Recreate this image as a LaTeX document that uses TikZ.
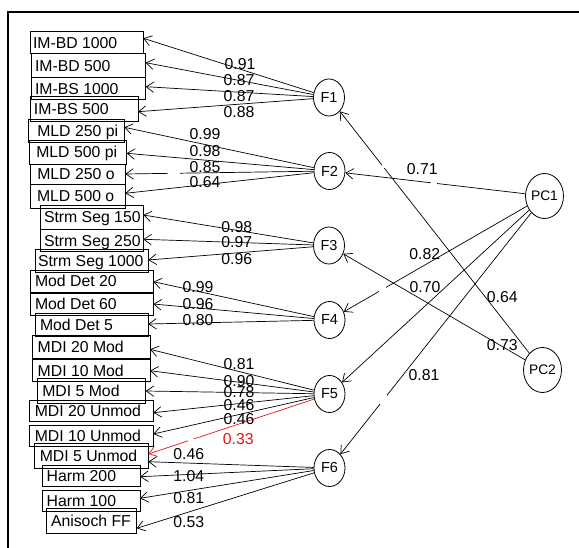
\documentclass[tikz,border=0pt]{standalone}
\usepackage{fontspec}
\setmainfont{Liberation Sans}
\usetikzlibrary{arrows.meta,shapes.geometric}
\definecolor{semred}{RGB}{230,20,20}
\newcommand\manbox[7]{%
  \pgfmathsetmacro\bxw{#4-#2}%
  \pgfmathsetmacro\bxh{#5-#3}%
  \pgfmathsetmacro\bxt{#4-#2-2*#6}%
  \node[mbox, minimum width=\bxw pt, minimum height=\bxh pt] (#1) at ({(#2+#4)/2},{(#3+#5)/2}) {\makebox[\bxt pt][l]{#7}};}
\begin{document}
\begin{tikzpicture}[x=1pt,y=-1pt,
  mbox/.style={draw, line width=0.8pt, rectangle, inner xsep=0pt, inner ysep=0pt, outer sep=0pt,
    text height=11.3pt, text depth=0pt, font=\fontsize{15.8}{18}\selectfont},
  lat/.style={draw, ellipse, line width=0.8pt, minimum width=31pt, minimum height=37pt, inner sep=0pt,
    font=\fontsize{14.5}{16}\selectfont},
  pcnode/.style={lat, minimum width=37pt, minimum height=45pt, font=\fontsize{13.8}{16}\selectfont},
  load/.style={line width=0.7pt, -{Straight Barb[length=7.5pt,width=10.5pt]}},
  lab/.style={inner sep=0pt, text height=11.3pt, text depth=0pt, font=\fontsize{15.8}{18}\selectfont},
  gap/.style={fill=white, draw=none}]
\useasboundingbox (0,0) rectangle (579,548);
\draw[line width=2pt] (7.7,548) -- (7.7,12) -- (579,12);

% manifest boxes
\manbox{b1}{30}{31.7}{143.3}{53.3}{3}{IM-BD 1000}
\manbox{b2}{31}{53.3}{145.7}{77.5}{4}{IM-BD 500}
\manbox{b3}{31}{77.7}{145.7}{99.3}{4}{IM-BS 1000}
\manbox{b4}{30}{96.7}{138}{121.7}{4}{IM-BS 500}
\manbox{b5}{28.3}{119}{124.3}{142.7}{9}{MLD 250 pi}
\manbox{b6}{29.3}{140.7}{126.7}{164}{7}{MLD 500 pi}
\manbox{b7}{30.3}{164}{125.3}{184.3}{7}{MLD 250 o}
\manbox{b8}{30}{184.3}{125.3}{208.3}{7}{MLD 500 o}
\manbox{b9}{40}{205}{143.3}{229.3}{4}{Strm Seg 150}
\manbox{b10}{40}{229.3}{143.3}{251.7}{4}{Strm Seg 250}
\manbox{b11}{35}{249.3}{148.3}{272.7}{3}{Strm Seg 1000}
\manbox{b12}{30}{270}{153.3}{292}{5}{Mod Det 20}
\manbox{b13}{30}{293.3}{153.3}{315}{5}{Mod Det 60}
\manbox{b14}{35}{313.3}{148.3}{336.7}{5}{Mod Det 5}
\manbox{b15}{32.7}{335}{150}{358.3}{5}{MDI 20 Mod}
\manbox{b16}{32.7}{359.3}{150}{381.7}{5}{MDI 10 Mod}
\manbox{b17}{37.3}{378.3}{145.7}{403.3}{5}{MDI 5 Mod}
\manbox{b18}{29.3}{400}{153.3}{421.7}{5.5}{MDI 20 Unmod}
\manbox{b19}{29.3}{425}{153.3}{446.7}{5.5}{MDI 10 Unmod}
\manbox{b20}{34.3}{443.3}{148.3}{468.3}{5.5}{MDI 5 Unmod}
\manbox{b21}{42.7}{465}{140}{486.7}{4}{Harm 200}
\manbox{b22}{42.7}{490}{140}{511.7}{4}{Harm 100}
\manbox{b23}{46}{508.3}{136.7}{533.3}{5}{Anisoch FF}

% latent nodes
\node[lat] (F1) at (329,97.5) {F1};
\node[lat] (F2) at (329.5,171) {F2};
\node[lat] (F3) at (329,245.5) {F3};
\node[lat] (F4) at (329.5,320) {F4};
\node[lat] (F5) at (329.5,394) {F5};
\node[lat] (F6) at (329.5,468) {F6};
\node[pcnode] (PC1) at (544.5,196) {PC1};
\node[pcnode] (PC2) at (542.5,370) {PC2};

% loadings
\draw[load] (F1) -- (b1.east |- 0,38.3);
\draw[load] (F1) -- (b2.east |- 0,62.7);
\draw[load] (F1) -- (b3.east |- 0,86.7);
\draw[load] (F1) -- (b4.east |- 0,111.7);
\draw[load] (F2) -- (b5.east |- 0,127.3);
\draw[load] (F2) -- (b6.east |- 0,153.3);
\draw[load] (F2) -- (b7.east |- 0,174);
\draw[load] (F2) -- (b8.east |- 0,193.3);
\draw[load] (F3) -- (b9.east |- 0,215);
\draw[load] (F3) -- (b10.east |- 0,239.3);
\draw[load] (F3) -- (b11.east |- 0,260);
\draw[load] (F4) -- (b12.east |- 0,281.7);
\draw[load] (F4) -- (b13.east |- 0,304);
\draw[load] (F4) -- (b14.east |- 0,324);
\draw[load] (F5) -- (b15.east |- 0,349.3);
\draw[load] (F5) -- (b16.east |- 0,370.7);
\draw[load] (F5) -- (b17.east |- 0,391);
\draw[load] (F5) -- (b18.east |- 0,412.7);
\draw[load] (F5) -- (b19.east |- 0,434);
\draw[load, semred] (F5) -- (b20.east |- 0,454);
\draw[load] (F6) -- (b20.east |- 0,461.7);
\draw[load] (F6) -- (b21.east |- 0,476.7);
\draw[load] (F6) -- (b22.east |- 0,498.3);
\draw[load] (F6) -- (b23.east |- 0,528.3);

\draw[load] (PC1) -- (F2);
\draw[load] (PC1) -- (F4);
\draw[load] (PC1) -- (F5);
\draw[load] (PC1) -- (F6);
\draw[load] (PC2) -- (F1);
\draw[load] (PC2) -- (F3);

% small gaps in lines
\fill[gap] (168,171) rectangle (180,177);
\fill[gap] (187.5,436) rectangle (194,444);
\fill[gap] (431,176) rectangle (437,185);
\fill[gap] (382,157) rectangle (388,168);
\fill[gap] (379,284) rectangle (386,292);
\fill[gap] (380,392) rectangle (387,404);

% labels
\node[lab] (l1) at (240,63.7) {0.91};
\node[lab] (l2) at (239,80) {0.87};
\node[lab] (l3) at (239,96) {0.87};
\node[lab] (l4) at (239,112) {0.88};
\node[lab] (l5) at (205,134) {0.99};
\node[lab] (l6) at (205,150.7) {0.98};
\node[lab] (l7) at (205,167.3) {0.85};
\node[lab] (l8) at (205,182.3) {0.64};
\node[lab] (l9) at (236.7,227.3) {0.98};
\node[lab] (l10) at (236.7,242.3) {0.97};
\node[lab] (l11) at (236.7,259) {0.96};
\node[lab] (l12) at (198,286.7) {0.99};
\node[lab] (l13) at (198,303.7) {0.96};
\node[lab] (l14) at (198,319.7) {0.80};
\node[lab] (l15) at (239,364) {0.81};
\node[lab] (l16) at (239,380.7) {0.90};
\node[lab] (l17) at (239,392.3) {0.78};
\node[lab] (l18) at (239,405) {0.46};
\node[lab] (l19) at (239,419) {0.46};
\node[lab, text=semred] (l20) at (238.3,439) {0.33};
\node[lab] (l21) at (188.7,454) {0.46};
\node[lab] (l22) at (188.7,475.7) {1.04};
\node[lab] (l23) at (188.7,498.3) {0.81};
\node[lab] (l24) at (188.7,522.3) {0.53};
\node[lab] (l25) at (422.3,169) {0.71};
\node[lab] (l26) at (424.7,254) {0.82};
\node[lab] (l27) at (425,286.7) {0.70};
\node[lab] (l28) at (502.3,297) {0.64};
\node[lab] (l29) at (502.3,345.3) {0.73};
\node[lab] (l30) at (424,374.7) {0.81};
\end{tikzpicture}
\end{document}
